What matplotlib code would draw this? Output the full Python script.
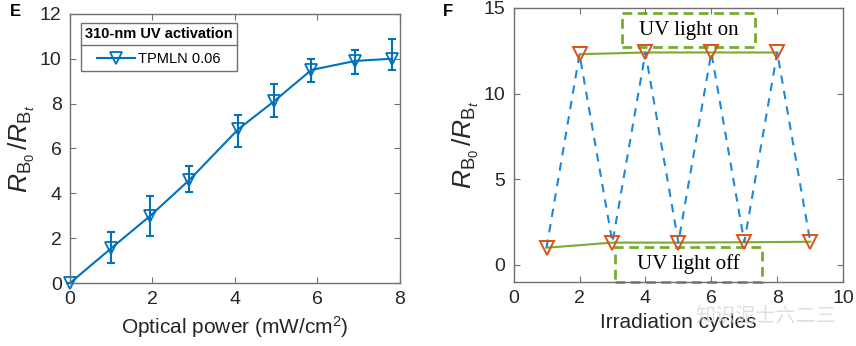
import matplotlib
matplotlib.use("Agg")
import matplotlib.pyplot as plt
from matplotlib.lines import Line2D
from matplotlib.patches import Rectangle

plt.rcParams['font.family'] = ['Liberation Sans', 'DejaVu Sans']
plt.rcParams['mathtext.fontset'] = 'custom'
plt.rcParams['mathtext.rm'] = 'Liberation Sans'
plt.rcParams['mathtext.it'] = 'Liberation Sans:italic'

# ---- data panel E ----
power = [0, 1.0, 1.95, 2.9, 4.08, 4.95, 5.86, 6.92, 7.82]
ratio_e = [0.0, 1.55, 3.0, 4.6, 6.85, 8.1, 9.5, 9.9, 10.0]
err_low = [0.0, 0.65, 0.92, 0.55, 0.8, 0.68, 0.56, 0.6, 0.5]
err_up = [0.0, 0.72, 0.9, 0.62, 0.65, 0.78, 0.48, 0.47, 0.87]
legend_title = "310-nm UV activation"
series_name = "TPMLN 0.06"

# ---- data panel F ----
cycles = [1, 2, 3, 4, 5, 6, 7, 8, 9]
ratio_f = [1.0, 12.3, 1.3, 12.4, 1.3, 12.4, 1.32, 12.4, 1.35]
on_cycles = [2, 4, 6, 8]
on_vals = [12.3, 12.4, 12.4, 12.4]
off_cycles = [1, 3, 5, 7, 9]
off_vals = [1.0, 1.3, 1.3, 1.32, 1.35]

BLUE = '#0072BD'
ORANGE = '#D95319'
GREEN = '#77AC30'
FRAME = '#707070'
TXT = '#262626'

fig = plt.figure(figsize=(8.56, 3.46), dpi=100)

def style(ax):
    for s in ax.spines.values():
        s.set_color(FRAME)
        s.set_linewidth(1.0)
    ax.tick_params(direction='in', top=True, right=True, color=FRAME,
                   labelsize=14, labelcolor=TXT, length=4, pad=6)

ylab = r'$R_{\mathrm{B}_0}\,/R_{\mathrm{B}_t}$'

# Panel E
ax1 = fig.add_axes([0.0818, 0.182, 0.385, 0.778])
ax1.errorbar(power, ratio_e, yerr=[err_low, err_up], fmt='none', ecolor=BLUE,
             capsize=3, elinewidth=1.5, capthick=1.5, clip_on=False)
ax1.plot(power, ratio_e, color=BLUE, lw=1.5, marker='v', ms=8, mfc='none',
         mec=BLUE, mew=1.3, label=series_name, clip_on=False)
ax1.set_xlim(0, 8)
ax1.set_ylim(0, 12)
ax1.set_xticks([0, 2, 4, 6, 8])
ax1.set_yticks([0, 2, 4, 6, 8, 10, 12])
style(ax1)
ax1.set_xlabel('Optical power (mW/cm$^2$)', fontsize=15, color=TXT, labelpad=4)
ax1.set_ylabel(ylab, fontsize=19, color=TXT, labelpad=2)
leg = ax1.legend(loc='upper left', bbox_to_anchor=(0.033, 0.967), title=legend_title,
                 fontsize=10.5, fancybox=False, edgecolor=FRAME, framealpha=1,
                 handlelength=2.6, borderpad=0.3, handletextpad=0.2,
                 borderaxespad=0)
leg.get_title().set_fontweight('bold')
leg.get_title().set_fontsize(10.5)
leg.get_frame().set_linewidth(1.0)
leg._legend_box.sep = 8
fig.text(0.012, 0.955, 'E', fontsize=12, fontweight='bold', color='black')

# Panel F
ax2 = fig.add_axes([0.600, 0.185, 0.385, 0.792])
ax2.plot(on_cycles, on_vals, color=GREEN, lw=1.5)
ax2.plot(off_cycles, off_vals, color=GREEN, lw=1.5)
ax2.plot(cycles, ratio_f, color='#1E88D8', lw=1.5, ls=(0, (4, 3.5)))
ax2.plot(cycles, ratio_f, ls='none', marker='v', ms=10, mfc='none', mec=ORANGE, mew=1.4)
ax2.set_xlim(0, 10)
ax2.set_ylim(-1, 15)
ax2.set_xticks([0, 2, 4, 6, 8, 10])
ax2.set_yticks([0, 5, 10, 15])
style(ax2)
ax2.set_xlabel('Irradiation cycles', fontsize=15, color=TXT, labelpad=4)
ax2.set_ylabel(ylab, fontsize=19, color=TXT, labelpad=2)
ax2.add_patch(Rectangle((3.3, 12.7), 4.02, 2.0, fill=False, ec=GREEN, lw=2, ls=(0, (3.5, 2))))
ax2.add_patch(Rectangle((3.07, -1.0), 4.47, 2.04, fill=False, ec=GREEN, lw=2, ls=(0, (3.5, 2)), clip_on=False))
ax2.text(5.31, 13.7, 'UV light on', ha='center', va='center', fontsize=15,
         family=['Liberation Serif'], color='black')
ax2.text(5.3, 0.02, 'UV light off', ha='center', va='center', fontsize=15,
         family=['Liberation Serif'], color='black')
fig.text(0.517, 0.955, 'F', fontsize=12, fontweight='bold', color='black')

fig.text(0.895, 0.083, '知识泥士六二三', fontsize=14.5, ha='center', va='center',
         family=['Noto Sans CJK SC', 'DejaVu Sans'], color='#d8d8d8', alpha=0.8)

# separator line under legend title
fig.canvas.draw()
r = fig.canvas.get_renderer()
lb = leg.get_frame().get_window_extent(r)
tb = leg.get_title().get_window_extent(r)
inv = fig.transFigure.inverted()
ysep = (tb.y0 - 4)
(x0, y0) = inv.transform((lb.x0, ysep))
(x1, _) = inv.transform((lb.x1, ysep))
fig.add_artist(Line2D([x0, x1], [y0, y0], color=FRAME, lw=1.0))

fig.savefig('out.png', dpi=100)
